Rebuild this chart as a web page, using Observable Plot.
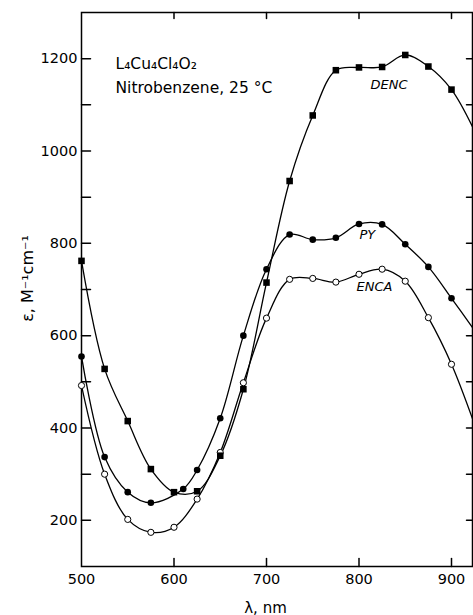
<!DOCTYPE html>
<html><head><meta charset="utf-8">
<script src="https://cdn.jsdelivr.net/npm/d3@7"></script>
<script src="https://cdn.jsdelivr.net/npm/@observablehq/plot@0.6"></script>
<style>html,body{margin:0;padding:0;background:#fff;overflow:hidden}</style>
</head><body><div id="chart"></div>
<script>
// Wavelength (nm) and molar absorptivity (M^-1 cm^-1)
const wavelengthDENC = [500,525,550,575,600,625,650,675,700,725,750,775,800,825,850,875,900,925];
const epsDENC        = [762,528,415,311,261,263,340,484,715,935,1077,1175,1181,1182,1208,1183,1133,1043];
const wavelengthPY   = [500,525,550,575,610,625,650,675,700,725,750,775,800,825,850,875,900,925];
const epsPY          = [555,337,261,238,268,309,421,600,744,819,808,812,842,841,798,749,681,611];
const wavelengthENCA = [500,525,550,575,600,625,650,675,700,725,750,775,800,825,850,875,900,925];
const epsENCA        = [492,300,202,174,185,246,347,498,638,722,724,716,733,744,718,639,538,407];
const seriesNames = ["DENC","PY","ENCA"];
const xTicks = [500,600,700,800,900];
const yTickLabels = [200,400,600,800,1000,1200];
const yTicksAll = [200,300,400,500,600,700,800,900,1000,1100,1200];
const titleLines = ["L₄Cu₄Cl₄O₂", "Nitrobenzene, 25 °C"];
const xLabel = "λ, nm";
const yLabel = "ε, M⁻¹cm⁻¹";

function rows(name, ws, vs) { return ws.map((w, i) => ({series: name, wavelength: w, eps: vs[i]})); }
const denc = rows(seriesNames[0], wavelengthDENC, epsDENC);
const py = rows(seriesNames[1], wavelengthPY, epsPY);
const enca = rows(seriesNames[2], wavelengthENCA, epsENCA);
const all = [...denc, ...py, ...enca];
const shown = d => d.wavelength <= 900;

const W = 473, H = 615, mL = 81, mR = 1, mT = 12, mB = 49;
const xDomain = [500, 922.7], yDomain = [100, 1300];
const kx = (xDomain[1] - xDomain[0]) / (W - mL - mR);   // data units per pixel
const ky = (yDomain[1] - yDomain[0]) / (H - mT - mB);
const fmt = d => String(d);

// inward tick segments (lengths in pixels converted to data units)
const tickSegments = [];
yTicksAll.forEach(v => {
  tickSegments.push({id: "L" + v, x: xDomain[0], y: v}, {id: "L" + v, x: xDomain[0] + 9 * kx, y: v});
  tickSegments.push({id: "R" + v, x: xDomain[1] - 6 * kx, y: v}, {id: "R" + v, x: xDomain[1], y: v});
});
xTicks.slice(1).forEach(v => {
  tickSegments.push({id: "B" + v, x: v, y: yDomain[0]}, {id: "B" + v, x: v, y: yDomain[0] + 8 * ky});
  tickSegments.push({id: "T" + v, x: v, y: yDomain[1] - 6 * ky}, {id: "T" + v, x: v, y: yDomain[1]});
});

const chart = Plot.plot({
  width: W, height: H,
  marginLeft: mL, marginRight: mR, marginTop: mT, marginBottom: mB,
  x: {domain: xDomain},
  y: {domain: yDomain},
  style: {fontFamily: "DejaVu Sans", fontSize: "14px", color: "black", background: "white"},
  marks: [
    Plot.frame({stroke: "black", fill: "none", strokeWidth: 1.5}),
    Plot.axisY({ticks: yTickLabels, tickSize: 0, tickPadding: 4, label: null, fontSize: 14.5, tickFormat: fmt}),
    Plot.axisX({ticks: xTicks, tickSize: 0, tickPadding: 7, label: null, fontSize: 14.5, tickFormat: fmt}),
    Plot.line(tickSegments, {x: "x", y: "y", z: "id", stroke: "black", strokeWidth: 1.5}),
    Plot.line(all, {x: "wavelength", y: "eps", z: "series", curve: "catmull-rom", stroke: "black", strokeWidth: 1.3, clip: true}),
    Plot.dot(enca.filter(shown), {x: "wavelength", y: "eps", r: 3.1, fill: "white", stroke: "black", strokeWidth: 1}),
    Plot.dot(py.filter(shown), {x: "wavelength", y: "eps", r: 3.3, fill: "black"}),
    Plot.dot(denc.filter(shown), {x: "wavelength", y: "eps", symbol: "square", r: 3.7, fill: "black"}),
    Plot.text([titleLines[0]], {frameAnchor: "top-left", dx: 34, dy: 56, textAnchor: "start", lineAnchor: "bottom", fontSize: 15.5}),
    Plot.text([titleLines[1]], {frameAnchor: "top-left", dx: 34, dy: 80, textAnchor: "start", lineAnchor: "bottom", fontSize: 15.5}),
    Plot.text([seriesNames[0]], {frameAnchor: "top-left", dx: 289, dy: 76, textAnchor: "start", lineAnchor: "bottom", fontSize: 13, fontStyle: "italic"}),
    Plot.text([seriesNames[1]], {frameAnchor: "top-left", dx: 278, dy: 226, textAnchor: "start", lineAnchor: "bottom", fontSize: 13, fontStyle: "italic"}),
    Plot.text([seriesNames[2]], {frameAnchor: "top-left", dx: 275, dy: 278, textAnchor: "start", lineAnchor: "bottom", fontSize: 13, fontStyle: "italic"}),
    Plot.text([yLabel], {frameAnchor: "top-left", dx: -54, dy: 266, rotate: -90, textAnchor: "middle", lineAnchor: "middle", fontSize: 16}),
    Plot.text([xLabel], {frameAnchor: "bottom-left", dx: 184, dy: 46, textAnchor: "middle", lineAnchor: "bottom", fontSize: 15})
  ]
});
document.getElementById("chart").appendChild(chart);
</script>
</body></html>
